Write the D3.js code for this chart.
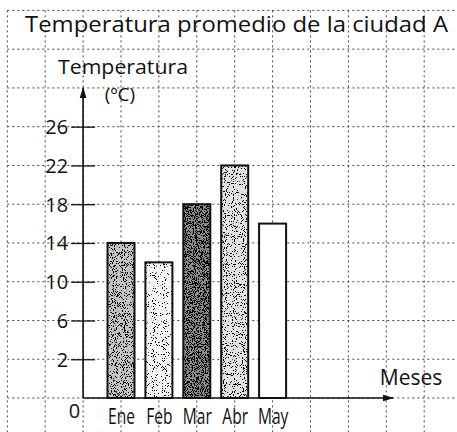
<!DOCTYPE html>
<html><head><meta charset="utf-8">
<script src="https://cdn.jsdelivr.net/npm/d3@7"></script>
<style>
html,body{margin:0;padding:0;background:#fff;}
text{font-family:"Open Sans","Noto Sans",sans-serif;fill:#111;}
</style></head>
<body>
<script>
// ---- data ----
const months = ["Ene","Feb","Mar","Abr","May"];
const temps = [14,12,18,22,16];
const yTicks = [2,6,10,14,18,22,26];
const title = "Temperatura promedio de la ciudad A";
const yLabel1 = "Temperatura";
const yLabel2 = "(ºC)";
const xLabel = "Meses";

// ---- styles (separate from data) ----
const barBase = ["#c4c4c4","#f3f3f3","#8c8c8c","#e2e2e2","#ffffff"];
const dotThreshold = [0.57,0.63,0.51,0.60,2];

const W = 457, H = 432;
const svg = d3.select("body").append("svg").attr("width",W).attr("height",H);
svg.append("rect").attr("width",W).attr("height",H).attr("fill","#fff");

// y scale: broken near zero (0 sits one grid step below 2)
const y = d3.scaleLinear().domain([0,2,38]).range([398,359.25,10.4]);
// column index scale: months at 0..4, grid columns every unit
const gx = d3.scaleLinear().domain([0,4]).range([121,272.6]);
const x = d3.scalePoint().domain(months).range([gx(0),gx(4)]);
const barW = 27;

// filters for stipple
const defs = svg.append("defs");
dotThreshold.forEach((t,i)=>{
  const f = defs.append("filter").attr("id","st"+i)
    .attr("color-interpolation-filters","sRGB");
  f.append("feTurbulence").attr("type","fractalNoise").attr("baseFrequency",1.1)
    .attr("numOctaves",1).attr("seed",i*7+3).attr("result","n");
  f.append("feColorMatrix").attr("in","n").attr("type","matrix")
    .attr("values",`0 0 0 0 0  0 0 0 0 0  0 0 0 0 0  40 0 0 0 ${-40*t}`).attr("result","d");
  f.append("feComposite").attr("in","d").attr("in2","SourceGraphic").attr("operator","in");
});

// grid
const grid = svg.append("g").attr("stroke","#444").attr("stroke-width",1)
  .attr("stroke-dasharray","2,3").attr("fill","none");
const rowVals = [0].concat(d3.range(2,39,4));
grid.selectAll("line.h").data(rowVals).join("line").attr("class","h")
  .attr("x1",gx(-3)).attr("x2",W).attr("y1",d=>y(d)).attr("y2",d=>y(d));
grid.selectAll("line.v").data(d3.range(-3,10)).join("line").attr("class","v")
  .attr("x1",d=>gx(d)).attr("x2",d=>gx(d)).attr("y1",y(38)).attr("y2",H);

// bars
const bars = svg.append("g");
months.forEach((m,i)=>{
  const bx = x(m)-barW/2, by = y(temps[i]), bh = y(0)-y(temps[i]);
  bars.append("rect").attr("x",bx).attr("y",by).attr("width",barW).attr("height",bh)
    .attr("fill",barBase[i]);
  if (dotThreshold[i] < 1) {
    bars.append("rect").attr("x",bx).attr("y",by).attr("width",barW).attr("height",bh)
      .attr("fill","#000").attr("filter",`url(#st${i})`);
  }
  bars.append("rect").attr("x",bx).attr("y",by).attr("width",barW).attr("height",bh)
    .attr("fill","none").attr("stroke","#111").attr("stroke-width",2);
});

// axes
const ax0 = gx(-1);
defs.append("marker").attr("id","arr").attr("viewBox","0 0 10 10").attr("refX",9).attr("refY",5)
  .attr("markerWidth",7).attr("markerHeight",7).attr("orient","auto-start-reverse")
  .append("path").attr("d","M0,2 L10,5 L0,8 Z").attr("fill","#111");
const yAxis = d3.axisLeft(y).tickValues(yTicks).tickSize(0).tickFormat(d3.format("d"));
const yg = svg.append("g").attr("transform",`translate(${ax0},0)`).call(yAxis);
yg.select(".domain").remove();
yg.selectAll(".tick text").attr("x",-15).attr("dy","0.35em")
  .style("font-size","20px").attr("fill","#111");
yg.selectAll(".tick").append("line").attr("x1",-12).attr("x2",12)
  .attr("stroke","#111").attr("stroke-width",1.3);
svg.append("line").attr("x1",ax0).attr("x2",ax0).attr("y1",y(0)).attr("y2",y(30))
  .attr("stroke","#111").attr("stroke-width",1.6).attr("marker-end","url(#arr)");
svg.append("line").attr("x1",ax0).attr("x2",393).attr("y1",y(0)).attr("y2",y(0))
  .attr("stroke","#111").attr("stroke-width",1.6).attr("marker-end","url(#arr)");

// zero label
svg.append("text").attr("x",ax0-3).attr("y",418).attr("text-anchor","end")
  .style("font-size","20px").text("0");

// x labels (condensed)
const xAxis = d3.axisBottom(x).tickSize(0);
const xg = svg.append("g").attr("transform",`translate(0,${y(0)})`).call(xAxis);
xg.select(".domain").remove();
xg.selectAll(".tick text").attr("y",0).attr("dy","26px")
  .style("font-size","21px").attr("fill","#111")
  .each(function(){
    const L = this.getComputedTextLength();
    d3.select(this).attr("textLength",L*0.74).attr("lengthAdjust","spacingAndGlyphs");
  });

// titles
const t = svg.append("text").attr("x",25).attr("y",32).style("font-size","21px").text(title);
t.attr("textLength",423).attr("lengthAdjust","spacingAndGlyphs");
svg.append("text").attr("x",123).attr("y",74).attr("text-anchor","middle")
  .style("font-size","20px").attr("textLength",130).attr("lengthAdjust","spacingAndGlyphs").text(yLabel1);
svg.append("text").attr("x",120).attr("y",101).attr("text-anchor","middle")
  .style("font-size","19px").text(yLabel2);
svg.append("text").attr("x",411).attr("y",385).attr("text-anchor","middle")
  .style("font-size","21px").text(xLabel);
</script>
</body></html>
